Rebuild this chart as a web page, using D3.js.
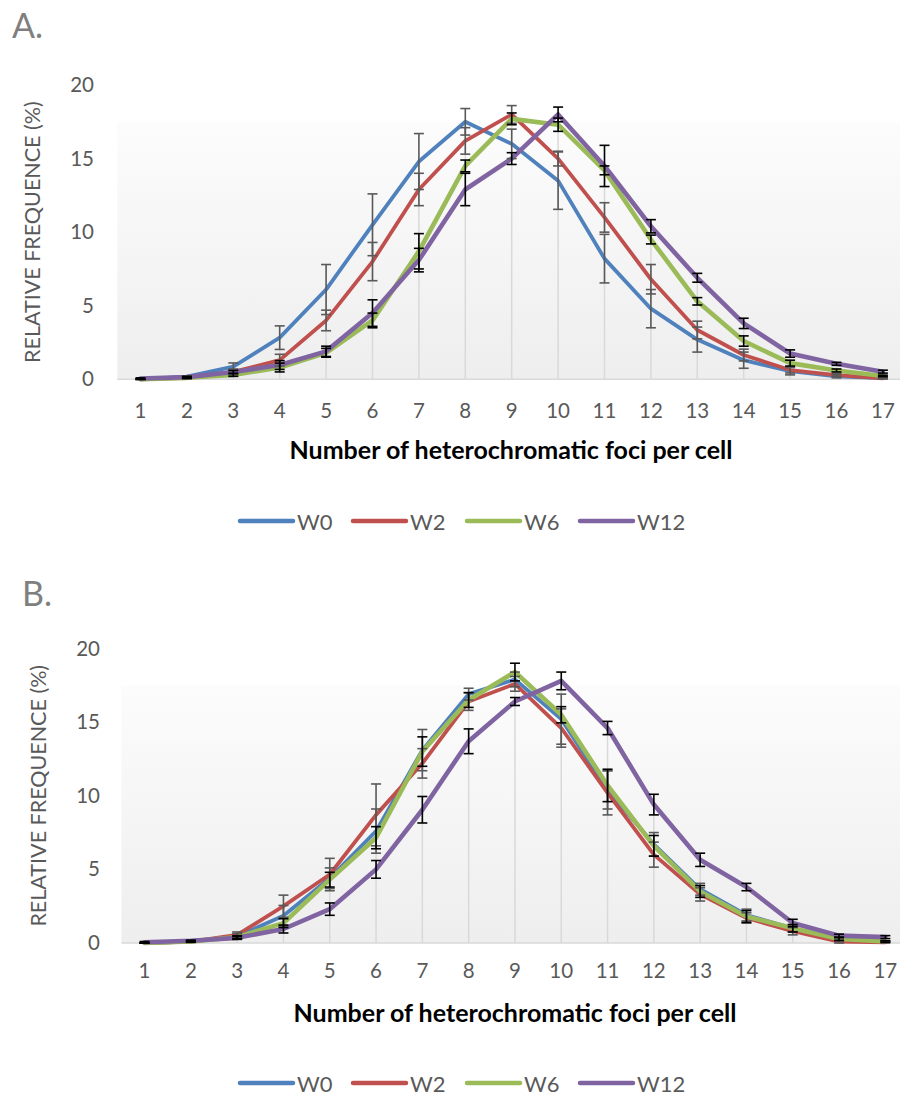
<!DOCTYPE html>
<html><head><meta charset="utf-8">
<script src="https://cdn.jsdelivr.net/npm/d3@7"></script>
<style>body{margin:0;background:#fff}svg{display:block}</style>
</head><body>
<svg id="chart" width="900" height="1097"></svg>
<script>
const categories = ["1","2","3","4","5","6","7","8","9","10","11","12","13","14","15","16","17"];
const yTicks = [0,5,10,15,20];
const seriesNames = ["W0","W2","W6","W12"];
const seriesColors = ["#4f81bd","#c0504d","#9bbb59","#8064a2"];
const errColors = ["#595959","#595959","#000000","#000000"];

// Panel A
const A_W0  = [0,0.18,0.86,2.83,6.1,10.5,14.8,17.5,16.0,13.5,8.2,4.8,2.7,1.3,0.55,0.2,0.08];
const A_W2  = [0,0.1,0.5,1.3,4.0,8.0,12.9,16.2,18.0,15.0,11.0,6.8,3.35,1.65,0.63,0.29,0.07];
const A_W6  = [0,0.1,0.3,0.8,1.8,4.0,8.7,14.5,17.7,17.3,14.2,9.5,5.3,2.6,1.1,0.6,0.23];
const A_W12 = [0.05,0.15,0.5,0.97,1.9,4.5,8.1,12.9,15.0,18.0,14.5,10.4,6.9,3.8,1.75,1.05,0.52];
const A_W0_err  = [0,0.05,0.25,0.8,1.7,2.1,1.9,0.9,1.0,1.95,1.65,1.3,0.85,0.55,0.25,0.1,0.05];
const A_W2_err  = [0,0.05,0.2,0.4,0.7,1.3,1.1,0.9,0.6,0.5,1.0,1.0,0.6,0.4,0.2,0.1,0.05];
const A_W6_err  = [0,0.05,0.1,0.3,0.3,0.5,1.2,0.4,0.4,0.45,0.3,0.3,0.25,0.35,0.2,0.1,0.05];
const A_W12_err = [0.05,0.05,0.1,0.3,0.35,0.9,0.8,1.1,0.4,0.5,1.4,0.45,0.3,0.35,0.25,0.1,0.1];

// Panel B
const B_W0  = [0,0.1,0.45,1.85,4.4,7.6,13.1,16.9,17.9,15.2,10.4,6.7,3.65,1.9,1.0,0.25,0.1];
const B_W2  = [0,0.1,0.55,2.5,4.65,8.7,12.2,16.4,17.6,14.6,10.2,6.0,3.3,1.7,0.8,0.1,0.05];
const B_W6  = [0,0.1,0.4,1.35,4.3,7.15,13.0,16.5,18.4,15.5,10.7,6.6,3.5,1.8,1.0,0.27,0.1];
const B_W12 = [0.05,0.15,0.35,0.95,2.3,5.0,9.05,13.7,16.4,17.8,14.6,9.4,5.65,3.8,1.36,0.5,0.4];
const B_W0_err  = [0,0.05,0.2,0.7,0.7,1.5,1.4,0.4,0.5,1.7,1.3,0.8,0.4,0.4,0.25,0.1,0.05];
const B_W2_err  = [0,0.05,0.2,0.75,1.1,2.1,1.0,0.6,0.5,1.3,1.5,0.85,0.45,0.35,0.25,0.1,0.05];
const B_W6_err  = [0,0.05,0.1,0.3,0.5,0.75,1.0,0.5,0.6,0.55,1.1,0.7,0.4,0.4,0.25,0.1,0.05];
const B_W12_err = [0.05,0.05,0.1,0.27,0.42,0.6,0.9,0.84,0.27,0.6,0.45,0.7,0.45,0.25,0.25,0.1,0.1];

const yTitle = "RELATIVE FREQUENCE (%)";
const xTitle = "Number of heterochromatic foci per cell";

const svg = d3.select("#chart");
const FONT = "Lato, 'Open Sans', sans-serif";
const defs = svg.append("defs");
const grad = defs.append("linearGradient").attr("id","bg").attr("x1",0).attr("y1",0).attr("x2",0).attr("y2",1);
grad.append("stop").attr("offset","0").attr("stop-color","#ffffff");
grad.append("stop").attr("offset","0.12").attr("stop-color","#ffffff");
grad.append("stop").attr("offset","0.13").attr("stop-color","#fcfcfc");
grad.append("stop").attr("offset","1").attr("stop-color","#eeeeee");

function drawPanel(p) {
  const g = svg.append("g");
  const x = d3.scaleBand().domain(categories).range([p.left, p.left + p.band*categories.length]).paddingInner(0).paddingOuter(0);
  const y = d3.scaleLinear().domain([0,20]).range([p.yZero, p.yTop]);
  const cx = c => x(c) + x.bandwidth()/2;

  // panel letter
  g.append("text").attr("x", p.letterX).attr("y", p.letterY).text(p.letter)
    .attr("font-family", FONT).attr("font-size", 34).attr("fill", "#7f7f7f");

  // plot background
  g.append("rect").attr("x", p.left).attr("y", y(20)).attr("width", x.range()[1]-p.left)
    .attr("height", y(0)-y(20)).attr("fill","url(#bg)");

  // axis line
  g.append("line").attr("x1", p.left).attr("x2", x.range()[1]).attr("y1", y(0)).attr("y2", y(0))
    .attr("stroke","#d9d9d9").attr("stroke-width",1.5);

  // drop lines
  categories.forEach((c,i) => {
    const mx = d3.max(p.series, s => s[i]);
    g.append("line").attr("x1", cx(c)).attr("x2", cx(c)).attr("y1", y(0)).attr("y2", y(mx))
      .attr("stroke","#d9d9d9").attr("stroke-width",1.5);
  });

  // y axis labels
  const yAxis = d3.axisLeft(y).tickValues(yTicks).tickSize(0).tickPadding(0);
  const ya = g.append("g").attr("transform", `translate(${p.yLabelX},0)`).call(yAxis);
  ya.select(".domain").remove();
  ya.selectAll("text").attr("font-family", FONT).attr("font-size", 20.5).attr("fill","#595959");

  // x axis labels
  const xAxis = d3.axisBottom(x).tickSize(0).tickPadding(0);
  const xa = g.append("g").attr("transform", `translate(0,${p.xLabelY})`).call(xAxis);
  xa.select(".domain").remove();
  xa.selectAll("text").attr("font-family", FONT).attr("font-size", 20.5).attr("fill","#595959").attr("dy","0");

  // titles
  g.append("text").attr("transform", `translate(${p.yTitleX},${(y(0)+y(20))/2}) rotate(-90)`)
    .attr("text-anchor","middle").attr("dominant-baseline","central")
    .attr("font-family", FONT).attr("font-size", 21.5).attr("fill","#595959").text(yTitle);
  g.append("text").attr("x", p.xTitleX).attr("y", p.xTitleY).attr("text-anchor","middle")
    .attr("font-family", FONT).attr("font-size", 25).attr("font-weight","bold").attr("fill","#000").text(xTitle);

  // lines
  const line = d3.line().x((d,i) => cx(categories[i])).y(d => y(d));
  p.series.forEach((s,k) => {
    g.append("path").datum(s).attr("d", line).attr("fill","none")
      .attr("stroke", seriesColors[k]).attr("stroke-width", k<2 ? 3.8 : 4.6)
      .attr("stroke-linejoin","round").attr("stroke-linecap","round");
  });

  // error bars
  p.series.forEach((s,k) => {
    const e = p.errs[k];
    categories.forEach((c,i) => {
      const x0 = cx(c), hi = y(s[i]+e[i]), lo = y(Math.max(0,s[i]-e[i]));
      const eg = g.append("g").attr("stroke", errColors[k]).attr("stroke-width", 1.6);
      eg.append("line").attr("x1",x0).attr("x2",x0).attr("y1",hi).attr("y2",lo);
      eg.append("line").attr("x1",x0-5).attr("x2",x0+5).attr("y1",hi).attr("y2",hi);
      eg.append("line").attr("x1",x0-5).attr("x2",x0+5).attr("y1",lo).attr("y2",lo);
    });
  });

  // legend
  const lg = g.append("g");
  seriesNames.forEach((n,k) => {
    const lx = p.legendX[k];
    lg.append("line").attr("x1", lx).attr("x2", lx+53).attr("y1", p.legendY).attr("y2", p.legendY)
      .attr("stroke", seriesColors[k]).attr("stroke-width", 4.5).attr("stroke-linecap","round");
    lg.append("text").attr("x", lx+57).attr("y", p.legendY).attr("dominant-baseline","central")
      .attr("font-family", FONT).attr("font-size", 22).attr("fill","#595959").text(n);
  });
}

drawPanel({
  letter:"A.", letterX:12, letterY:38,
  left:117.3, band:46.4, yZero:379.3, yTop:85,
  yLabelX:94, xLabelY:418, yTitleX:32, xTitleX:511, xTitleY:459,
  legendX:[240,353,467,580], legendY:521,
  series:[A_W0,A_W2,A_W6,A_W12], errs:[A_W0_err,A_W2_err,A_W6_err,A_W12_err]
});
drawPanel({
  letter:"B.", letterX:22, letterY:606,
  left:121.4, band:46.3, yZero:943, yTop:648.5,
  yLabelX:100, xLabelY:978, yTitleX:38, xTitleX:515, xTitleY:1022,
  legendX:[240,353,467,580], legendY:1083,
  series:[B_W0,B_W2,B_W6,B_W12], errs:[B_W0_err,B_W2_err,B_W6_err,B_W12_err]
});
</script>
</body></html>
